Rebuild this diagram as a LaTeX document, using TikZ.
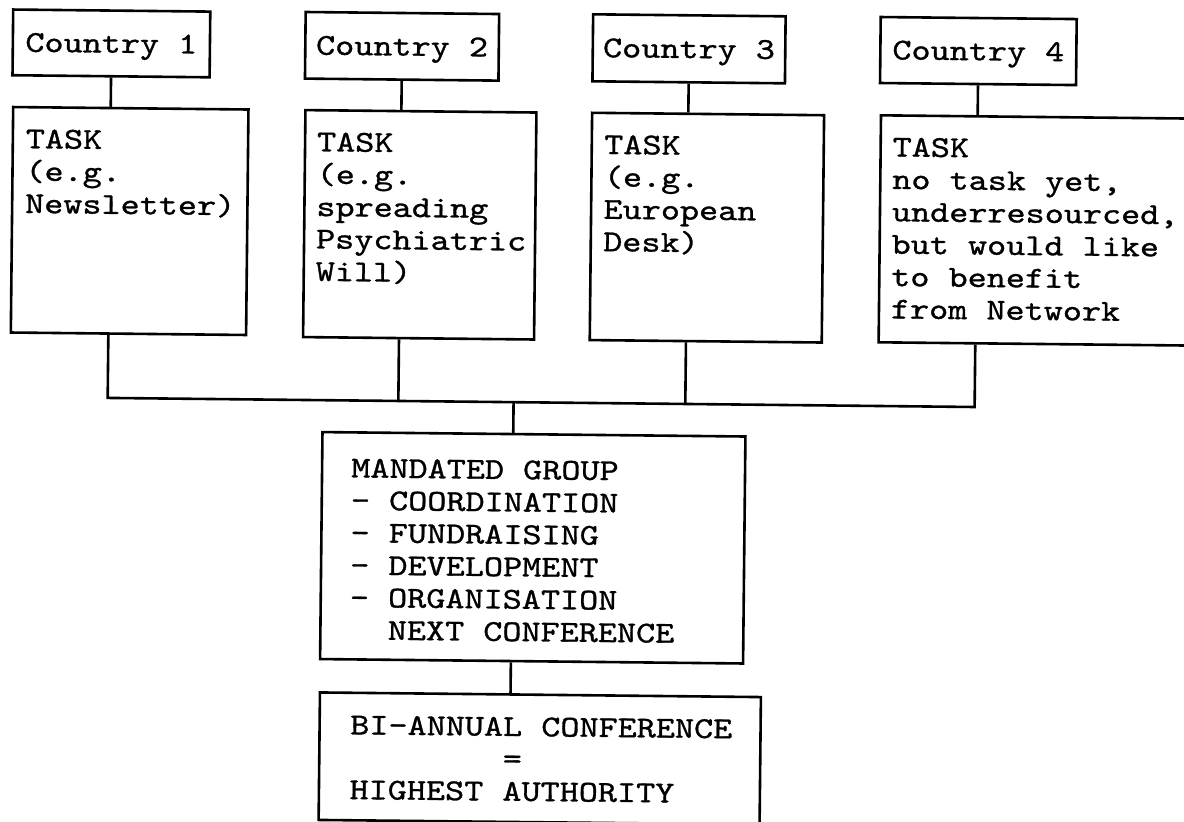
\documentclass[tikz,border=0pt]{standalone}
\usepackage{fontspec}
\setmonofont{lmmono10-regular.otf}[FakeStretch=1.2,FakeBold=1]
\usetikzlibrary{calc}
\newcommand{\boxlines}[5]{\begin{minipage}[t][#2][t]{#1}\leftskip=#3\rightskip=0pt plus 1fil\parfillskip=0pt plus 1fil\parindent=0pt\rule{0pt}{#4}#5\end{minipage}}
\begin{document}
\begin{tikzpicture}[x=1pt,y=-1pt,
  every node/.style={font=\ttfamily\fontsize{30.32pt}{32.4pt}\selectfont},
  frame/.style={draw, line width=2.6pt, inner sep=0pt, anchor=north west},
  country/.style={frame, text height=18.5pt, text depth=0pt},
  link/.style={line width=2.6pt}]
\useasboundingbox (0,0) rectangle (1184,822);
\fill[white] (0,0) rectangle (1184,822);
\begin{scope}[rotate around={-0.6:(592,411)}, transform shape]
% country boxes
\node[country, minimum width=197.1pt, minimum height=65.7pt] (c1) at (7.7,14.3) {Country 1};
\node[country, minimum width=193.5pt, minimum height=66.6pt] (c2) at (300.2,13.7) {Country 2};
\node[country, minimum width=192.5pt, minimum height=67pt] (c3) at (587.7,13) {Country 3};
\node[country, minimum width=196pt, minimum height=66pt] (c4) at (875.3,12.7) {Country 4};
% task boxes
\node[frame] (t1) at (8.7,111.8) {\boxlines{235.3pt}{225.5pt}{13pt}{41pt}{TASK\\(e.g.\\Newsletter)}};
\node[frame] (t2) at (301,111.8) {\boxlines{231pt}{227pt}{12pt}{41pt}{TASK\\(e.g.\\spreading\\Psychiatric\\Will)}};
\node[frame] (t3) at (587.7,111.5) {\boxlines{232pt}{227.3pt}{12.5pt}{41pt}{TASK\\(e.g.\\European\\Desk)}};
\node[frame] (t4) at (876.6,111) {\boxlines{318pt}{227pt}{12pt}{41pt}{TASK\\no task yet,\\underresourced,\\but would like\\to benefit\\from Network}};
% mandated group
\node[frame] (mg) at (321.4,433.6) {\boxlines{423pt}{227pt}{29.2pt}{45pt}{MANDATED GROUP\\- COORDINATION\\- FUNDRAISING\\- DEVELOPMENT\\- ORGANISATION\\\hspace*{38.2pt}NEXT CONFERENCE}};
% conference
\node[frame] (bi) at (321.6,694) {\boxlines{441pt}{127.5pt}{30.7pt}{41.5pt}{BI-ANNUAL CONFERENCE\\\hspace*{152.8pt}=\\HIGHEST AUTHORITY}};
% bus line
\coordinate (busL) at (0,403);
\coordinate (busR) at (1184,403);
\coordinate (j) at (513.5,403);
% country to task
\draw[link] (c1.south) -- ($(t1.north west)!(c1.south)!(t1.north east)$);
\draw[link] (c2.south) -- ($(t2.north west)!(c2.south)!(t2.north east)$);
\draw[link] (c3.south) -- ($(t3.north west)!(c3.south)!(t3.north east)$);
\draw[link] (c4.south) -- ($(t4.north west)!(c4.south)!(t4.north east)$);
% task to bus
\draw[link] ($(t1.south west)!(c1.south)!(t1.south east)$) -- ($(busL)!(c1.south)!(busR)$) -- ($(busL)!(c4.south)!(busR)$) -- ($(t4.south west)!(c4.south)!(t4.south east)$);
\draw[link] ($(t2.south west)!(c2.south)!(t2.south east)$) -- ($(busL)!(c2.south)!(busR)$);
\draw[link] ($(t3.south west)!(c3.south)!(t3.south east)$) -- ($(busL)!(c3.south)!(busR)$);
% bus to mandated group, to conference
\draw[link] (j) -- ($(mg.north west)!(j)!(mg.north east)$);
\draw[link] ($(mg.south west)!(j)!(mg.south east)$) -- ($(bi.north west)!(j)!(bi.north east)$);
\end{scope}
\end{tikzpicture}
\end{document}
